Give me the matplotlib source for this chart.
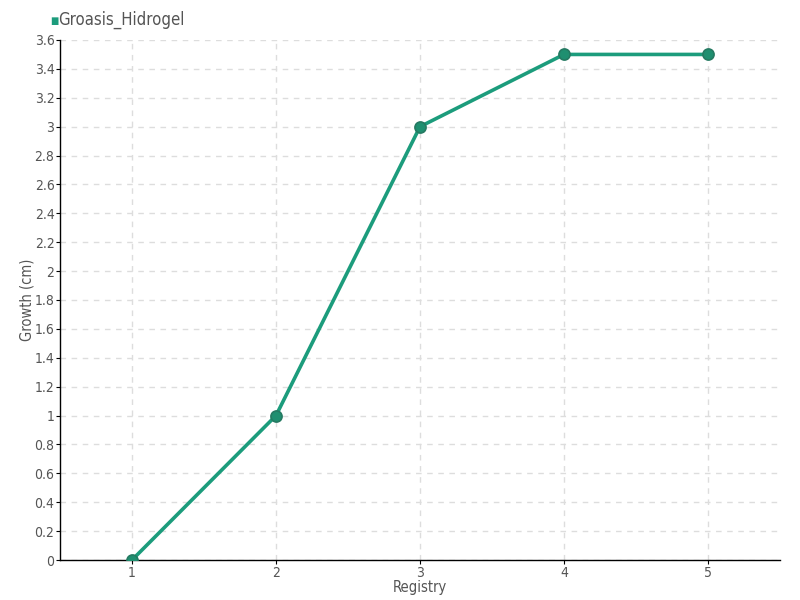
import matplotlib
matplotlib.use("Agg")
import matplotlib.pyplot as plt
from matplotlib.ticker import FuncFormatter, MultipleLocator

plt.rcParams['font.family'] = ['DejaVu Sans']
plt.rcParams['font.stretch'] = 'condensed'

registry = [1, 2, 3, 4, 5]
growth = [0, 1, 3, 3.5, 3.5]
series_name = "Groasis_Hidrogel"

LINE = "#1c9c7c"
EDGE = "#257a62"
TEXT = "#555555"

fig = plt.figure(figsize=(8, 6), dpi=100)
ax = fig.add_axes([60 / 800, 40 / 600, 720 / 800, 520 / 600])

ax.plot(registry, growth, color=LINE, lw=2.6, marker="o", ms=8,
        markerfacecolor="#1f8f70", markeredgecolor=EDGE, markeredgewidth=1.2,
        zorder=3)

ax.set_xlim(0.5, 5.5)
ax.set_ylim(0, 3.6)
ax.yaxis.set_major_locator(MultipleLocator(0.2))
ax.set_xticks(registry)
ax.yaxis.set_major_formatter(FuncFormatter(lambda v, p: f"{v:g}"))

ax.grid(True, color="#dddddd", ls=(0, (4, 4)), lw=1)
ax.set_axisbelow(True)
for s in ("top", "right"):
    ax.spines[s].set_visible(False)
for s in ("left", "bottom"):
    ax.spines[s].set_color("#000000")
    ax.spines[s].set_linewidth(1)

ax.tick_params(axis="both", labelsize=10, colors=TEXT, length=3, pad=1)
ax.tick_params(axis="both", color="#000000")

ax.set_xlabel("Registry", fontsize=10.5, color=TEXT)
ax.set_ylabel("Growth (cm)", fontsize=10.5, color=TEXT)
ax.yaxis.set_label_coords(-0.046, 0.5)
ax.xaxis.set_label_coords(0.5, -0.039)
ax.xaxis.label.set_va("top")
ax.yaxis.label.set_va("center")

fig.text(50 / 800, 1 - 21 / 600, "\u25a0", color=LINE, fontsize=7,
         ha="left", va="center")
fig.text(58 / 800, 1 - 20 / 600, series_name, color=TEXT, fontsize=12,
         ha="left", va="center")

fig.savefig("out.png", dpi=100)
